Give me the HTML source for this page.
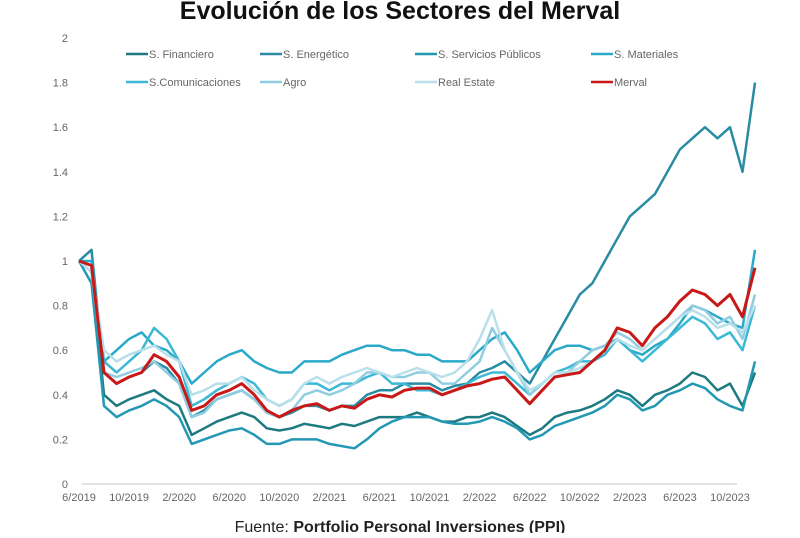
<!DOCTYPE html>
<html><head><meta charset="utf-8"><style>
html,body{margin:0;padding:0;background:#fff;}
body{width:800px;height:533px;overflow:hidden;font-family:"Liberation Sans",sans-serif;}
</style></head><body>
<svg id="chart" width="800" height="533" viewBox="0 0 800 533">
<text x="400" y="19" text-anchor="middle" font-size="25" font-weight="bold" fill="#111">Evolución de los Sectores del Merval</text>
<g id="axes"></g><g id="series"></g><g id="legend"></g>
<text x="400" y="532" text-anchor="middle" font-size="16" fill="#222">Fuente: <tspan font-weight="bold">Portfolio Personal Inversiones (PPI)</tspan></text>
</svg>
<script>
const xLabels=["6/2019","10/2019","2/2020","6/2020","10/2020","2/2021","6/2021","10/2021","2/2022","6/2022","10/2022","2/2023","6/2023","10/2023"];
const yTicks=[0,0.2,0.4,0.6,0.8,1,1.2,1.4,1.6,1.8,2];
const seriesNames=["S. Financiero","S. Energético","S. Servicios Públicos","S. Materiales","S.Comunicaciones","Agro","Real Estate","Merval"];
const financiero=[1.0,0.95,0.4,0.35,0.38,0.4,0.42,0.38,0.35,0.22,0.25,0.28,0.3,0.32,0.3,0.25,0.24,0.25,0.27,0.26,0.25,0.27,0.26,0.28,0.3,0.3,0.3,0.32,0.3,0.28,0.28,0.3,0.3,0.32,0.3,0.26,0.22,0.25,0.3,0.32,0.33,0.35,0.38,0.42,0.4,0.35,0.4,0.42,0.45,0.5,0.48,0.42,0.45,0.35,0.5];
const energetico=[1.0,1.05,0.5,0.45,0.48,0.5,0.55,0.52,0.45,0.3,0.33,0.38,0.4,0.42,0.38,0.32,0.3,0.32,0.35,0.35,0.33,0.35,0.35,0.4,0.42,0.42,0.45,0.45,0.45,0.42,0.44,0.45,0.5,0.52,0.55,0.5,0.45,0.55,0.65,0.75,0.85,0.9,1.0,1.1,1.2,1.25,1.3,1.4,1.5,1.55,1.6,1.55,1.6,1.4,1.8];
const servicios=[1.0,0.9,0.35,0.3,0.33,0.35,0.38,0.35,0.3,0.18,0.2,0.22,0.24,0.25,0.22,0.18,0.18,0.2,0.2,0.2,0.18,0.17,0.16,0.2,0.25,0.28,0.3,0.3,0.3,0.28,0.27,0.27,0.28,0.3,0.28,0.25,0.2,0.22,0.26,0.28,0.3,0.32,0.35,0.4,0.38,0.33,0.35,0.4,0.42,0.45,0.43,0.38,0.35,0.33,0.55];
const materiales=[1.0,1.0,0.55,0.6,0.65,0.68,0.62,0.6,0.55,0.45,0.5,0.55,0.58,0.6,0.55,0.52,0.5,0.5,0.55,0.55,0.55,0.58,0.6,0.62,0.62,0.6,0.6,0.58,0.58,0.55,0.55,0.55,0.6,0.65,0.68,0.6,0.5,0.55,0.6,0.62,0.62,0.6,0.62,0.65,0.6,0.58,0.62,0.65,0.72,0.8,0.78,0.75,0.72,0.7,1.05];
const comunicaciones=[1.0,0.95,0.55,0.5,0.55,0.6,0.7,0.65,0.55,0.35,0.38,0.42,0.45,0.48,0.45,0.38,0.35,0.38,0.45,0.45,0.42,0.45,0.45,0.48,0.5,0.45,0.45,0.42,0.42,0.4,0.42,0.45,0.48,0.5,0.5,0.45,0.4,0.45,0.5,0.52,0.55,0.55,0.58,0.65,0.6,0.55,0.6,0.65,0.7,0.75,0.72,0.65,0.68,0.6,0.8];
const agro=[1.0,0.95,0.5,0.48,0.5,0.52,0.55,0.5,0.45,0.3,0.32,0.38,0.4,0.42,0.38,0.32,0.3,0.33,0.4,0.42,0.4,0.42,0.45,0.5,0.5,0.48,0.48,0.5,0.5,0.45,0.45,0.5,0.55,0.7,0.6,0.5,0.4,0.45,0.5,0.5,0.55,0.6,0.62,0.68,0.65,0.6,0.65,0.7,0.75,0.8,0.78,0.72,0.75,0.65,0.85];
const realEstate=[1.0,0.95,0.6,0.55,0.58,0.6,0.62,0.58,0.55,0.4,0.42,0.45,0.45,0.48,0.42,0.38,0.35,0.38,0.45,0.48,0.45,0.48,0.5,0.52,0.5,0.48,0.5,0.52,0.5,0.48,0.5,0.55,0.65,0.78,0.6,0.5,0.42,0.45,0.5,0.5,0.52,0.55,0.6,0.65,0.62,0.6,0.65,0.7,0.75,0.78,0.75,0.7,0.72,0.68,0.8];
const merval=[1.0,0.98,0.5,0.45,0.48,0.5,0.58,0.55,0.48,0.33,0.35,0.4,0.42,0.45,0.4,0.33,0.3,0.33,0.35,0.36,0.33,0.35,0.34,0.38,0.4,0.39,0.42,0.43,0.43,0.4,0.42,0.44,0.45,0.47,0.48,0.42,0.36,0.42,0.48,0.49,0.5,0.55,0.6,0.7,0.68,0.62,0.7,0.75,0.82,0.87,0.85,0.8,0.85,0.75,0.97];
const allSeries=[financiero,energetico,servicios,materiales,comunicaciones,agro,realEstate,merval];
const colors=["#1d7a80","#2a8ca2","#2298b2","#2aa9c8","#3bb8d6","#90cde0","#b8dfea","#c81818"];
const NS="http://www.w3.org/2000/svg";
const x=m=>79+m*(651/52);
const y=v=>484-v*223;
function mk(tag,attrs,parent,txt){const e=document.createElementNS(NS,tag);for(const k in attrs)e.setAttribute(k,attrs[k]);if(txt!==undefined)e.textContent=txt;parent.appendChild(e);return e;}
const axes=document.getElementById('axes');
const base=mk('line',{x1:82,x2:737,y1:y(0),y2:y(0),stroke:'#d9d9d9','stroke-width':1.5},axes);


yTicks.forEach(v=>{const t=mk('text',{x:68,y:y(v)+4,'text-anchor':'end','font-size':11,fill:'#666'},axes,String(v));

});
xLabels.forEach((l,i)=>{const t=mk('text',{x:x(i*4),y:y(0)+17,'text-anchor':'middle','font-size':11,fill:'#666'},axes,l);

});
const sg=document.getElementById('series');
allSeries.forEach((s,i)=>{const d=s.map((v,m)=>(m?'L':'M')+x(m).toFixed(1)+' '+y(v).toFixed(1)).join(' ');
const p=mk('path',{d:d,fill:'none',stroke:colors[i],'stroke-width':i==7?3:2.5,'stroke-linejoin':'round'},sg);

});
const lg=document.getElementById('legend');
const lx=[126,260,415,591,126,260,415,591],ly=[54,54,54,54,82,82,82,82];
seriesNames.forEach((n,i)=>{const g=mk('g',{},lg);


mk('line',{x1:lx[i],x2:lx[i]+22,y1:ly[i],y2:ly[i],stroke:colors[i],'stroke-width':2.5},g);
mk('text',{x:lx[i]+23,y:ly[i]+4,'font-size':11,fill:'#666'},g,n);});
</script>
</body></html>
